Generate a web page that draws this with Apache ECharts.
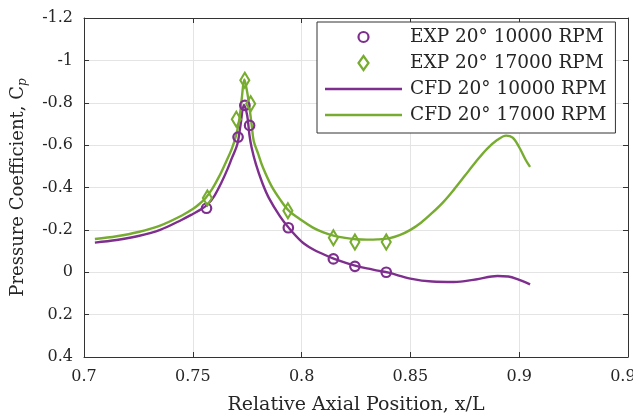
<!DOCTYPE html>
<html>
<head>
<meta charset="utf-8">
<script src="https://cdn.jsdelivr.net/npm/echarts@6/dist/echarts.min.js"></script>
<style>
  html, body { margin: 0; padding: 0; background: #ffffff; }
  #chart { width: 633px; height: 418px; }
</style>
</head>
<body>
<div id="chart"></div>
<script>
// Experimental pressure taps, 10000 RPM
const exp10x = [0.7563, 0.7708, 0.7739, 0.7761, 0.7939, 0.8146, 0.8245, 0.8389];
const exp10y = [-0.302, -0.638, -0.788, -0.693, -0.210, -0.063, -0.028, 0.000];
// Experimental pressure taps, 17000 RPM
const exp17x = [0.7567, 0.7700, 0.7739, 0.7766, 0.7937, 0.8146, 0.8245, 0.8389];
const exp17y = [-0.350, -0.722, -0.906, -0.795, -0.290, -0.163, -0.143, -0.143];

// CFD wall pressure, 10000 RPM
const cfd10x = [0.705, 0.715, 0.725, 0.735, 0.745, 0.750, 0.754, 0.757, 0.760, 0.763, 0.766, 0.768, 0.7705, 0.772, 0.7735,
  0.775, 0.776, 0.777, 0.779, 0.782, 0.785, 0.790, 0.794, 0.800, 0.805, 0.810, 0.815, 0.820, 0.825, 0.830, 0.835,
  0.840, 0.850, 0.860, 0.870, 0.880, 0.890, 0.895, 0.900, 0.905];
const cfd10y = [-0.140, -0.152, -0.171, -0.200, -0.248, -0.275, -0.298, -0.322, -0.362, -0.420, -0.488, -0.540, -0.605, -0.700, -0.790,
  -0.740, -0.650, -0.590, -0.510, -0.420, -0.350, -0.265, -0.211, -0.145, -0.110, -0.085, -0.063, -0.045, -0.030, -0.018, -0.008,
  0.002, 0.030, 0.044, 0.046, 0.034, 0.018, 0.020, 0.036, 0.057];

// CFD wall pressure, 17000 RPM
const cfd17x = [0.705, 0.715, 0.725, 0.735, 0.745, 0.750, 0.753, 0.756, 0.759, 0.762, 0.765, 0.768, 0.770, 0.7715, 0.7725, 0.7737,
  0.775, 0.776, 0.777, 0.778, 0.780, 0.782, 0.786, 0.790, 0.794, 0.800, 0.805, 0.810, 0.815, 0.820, 0.825, 0.830,
  0.835, 0.840, 0.845, 0.850, 0.855, 0.860, 0.865, 0.870, 0.875, 0.880, 0.885, 0.890, 0.894, 0.897, 0.900, 0.903, 0.905];
const cfd17y = [-0.157, -0.170, -0.190, -0.220, -0.268, -0.298, -0.322, -0.352, -0.395, -0.450, -0.515, -0.585, -0.650, -0.730, -0.820, -0.910,
  -0.850, -0.780, -0.700, -0.620, -0.560, -0.500, -0.410, -0.345, -0.292, -0.245, -0.212, -0.188, -0.172, -0.162, -0.156, -0.154,
  -0.155, -0.160, -0.175, -0.200, -0.235, -0.280, -0.330, -0.390, -0.455, -0.520, -0.580, -0.625, -0.645, -0.635, -0.590, -0.530, -0.497];

const seriesNames = ['EXP 20° 10000 RPM', 'EXP 20° 17000 RPM', 'CFD 20° 10000 RPM', 'CFD 20° 17000 RPM'];
const xTicks = { min: 0.7, max: 0.95, step: 0.05 };
const yTicks = { min: -1.2, max: 0.4, step: 0.2 };

const PURPLE = '#7E2F8E';
const GREEN = '#77AC30';
const AXIS = '#333333';
const TEXT = '#262626';
const FONT = 'DejaVu Serif';

// legend glyphs: the M-only points pad the bounding box so the marker keeps its size
const ICON_CIRCLE = 'path://M-7,-7M7,7M5,0A5,5,0,1,1,-5,0A5,5,0,1,1,5,0Z';
const ICON_DIAMOND = 'path://M-7,-7M7,7M0,-7L5,0L0,7L-5,0Z';
const ICON_LINE = 'path://M0,0L77,0L77,2.4L0,2.4Z';

const pairs = (xs, ys) => xs.map((x, i) => [x, ys[i]]);
const fmt = v => String(+v.toFixed(2));

const baseAxis = {
  type: 'value',
  axisLine: { show: true, onZero: false, lineStyle: { color: AXIS, width: 1 } },
  axisTick: { show: true, inside: true, length: 5, lineStyle: { color: AXIS } },
  splitLine: { show: false },
  axisLabel: { show: false }
};

const chart = echarts.init(document.getElementById('chart'), null, { renderer: 'canvas' });

chart.setOption({
  backgroundColor: '#ffffff',
  animation: false,
  // fixed plot box; the last x label is allowed to run past the right edge
  grid: { left: 84, right: 5, top: 18, bottom: 61, containLabel: false, outerBoundsMode: 'none' },
  xAxis: [
    Object.assign({}, baseAxis, {
      position: 'bottom',
      min: xTicks.min, max: xTicks.max, interval: xTicks.step,
      splitLine: { show: true, lineStyle: { color: '#e4e4e4', width: 1 } },
      axisLabel: { show: true, color: TEXT, fontFamily: FONT, fontSize: 16, margin: 12, formatter: fmt,
        showMinLabel: true, showMaxLabel: true, hideOverlap: false },
      name: 'Relative Axial Position, x/L',
      nameLocation: 'middle', nameGap: 39,
      nameTextStyle: { color: TEXT, fontFamily: FONT, fontSize: 19 }
    }),
    Object.assign({}, baseAxis, {
      position: 'top',
      min: xTicks.min, max: xTicks.max, interval: xTicks.step
    })
  ],
  yAxis: [
    Object.assign({}, baseAxis, {
      position: 'left', inverse: true,
      min: yTicks.min, max: yTicks.max, interval: yTicks.step,
      splitLine: { show: true, lineStyle: { color: '#e4e4e4', width: 1 } },
      axisLabel: { show: true, color: TEXT, fontFamily: FONT, fontSize: 16, margin: 11, formatter: fmt },
      name: '{a|Pressure Coefficient, C}{p|p}',
      nameLocation: 'middle', nameGap: 55, nameRotate: 90,
      nameTextStyle: {
        color: TEXT, fontFamily: FONT, fontSize: 18,
        rich: {
          a: { color: TEXT, fontFamily: FONT, fontSize: 18 },
          p: { color: TEXT, fontFamily: FONT, fontSize: 12, fontStyle: 'italic', padding: [10, 0, 0, 0] }
        }
      }
    }),
    Object.assign({}, baseAxis, {
      position: 'right', inverse: true,
      min: yTicks.min, max: yTicks.max, interval: yTicks.step
    })
  ],
  legend: {
    orient: 'vertical',
    left: 317, top: 22,
    padding: [5, 9, 8, 8],
    itemGap: 6,
    itemWidth: 77, itemHeight: 14,
    symbolKeepAspect: true,
    backgroundColor: '#ffffff',
    borderColor: AXIS, borderWidth: 1, borderRadius: 0,
    textStyle: { color: TEXT, fontFamily: FONT, fontSize: 18.5, lineHeight: 20, padding: [0, 0, 0, 3] },
    data: [
      { name: seriesNames[0], icon: ICON_CIRCLE, itemStyle: { color: 'rgba(255,255,255,0)', borderColor: PURPLE, borderWidth: 2.2 } },
      { name: seriesNames[1], icon: ICON_DIAMOND, itemStyle: { color: 'rgba(255,255,255,0)', borderColor: GREEN, borderWidth: 2.2 } },
      { name: seriesNames[2], icon: ICON_LINE, itemStyle: { color: PURPLE, borderWidth: 0 } },
      { name: seriesNames[3], icon: ICON_LINE, itemStyle: { color: GREEN, borderWidth: 0 } }
    ]
  },
  series: [
    {
      name: seriesNames[2], type: 'line', data: pairs(cfd10x, cfd10y),
      showSymbol: false, symbol: 'none', smooth: 0.35,
      lineStyle: { color: PURPLE, width: 2.4 }, itemStyle: { color: PURPLE }, z: 3
    },
    {
      name: seriesNames[3], type: 'line', data: pairs(cfd17x, cfd17y),
      showSymbol: false, symbol: 'none', smooth: 0.35,
      lineStyle: { color: GREEN, width: 2.4 }, itemStyle: { color: GREEN }, z: 3
    },
    {
      name: seriesNames[0], type: 'scatter', data: pairs(exp10x, exp10y),
      symbol: 'circle', symbolSize: 9.5,
      itemStyle: { color: 'rgba(255,255,255,0)', borderColor: PURPLE, borderWidth: 2.2, opacity: 1 }, z: 4
    },
    {
      name: seriesNames[1], type: 'scatter', data: pairs(exp17x, exp17y),
      symbol: 'diamond', symbolSize: [9, 15],
      itemStyle: { color: 'rgba(255,255,255,0)', borderColor: GREEN, borderWidth: 2.2, opacity: 1 }, z: 4
    }
  ]
});
</script>
</body>
</html>
